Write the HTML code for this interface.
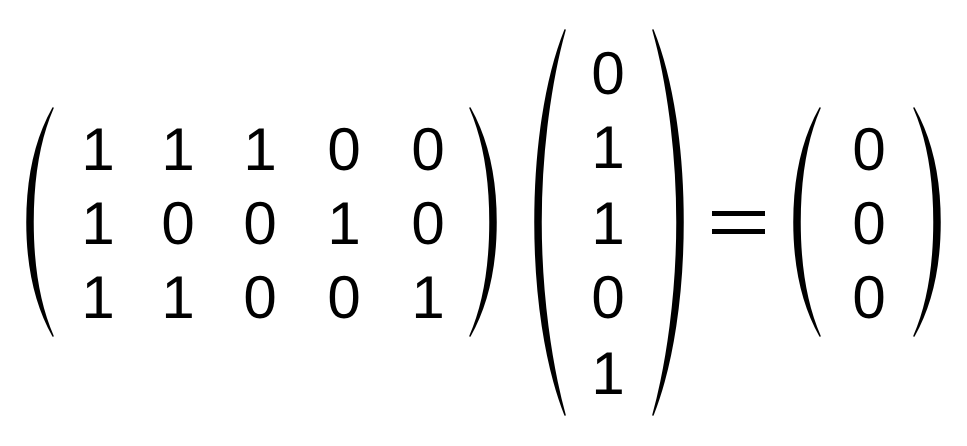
<!DOCTYPE html>
<html><head><meta charset="utf-8"><style>
html,body{margin:0;padding:0;background:#fff;}
svg{display:block}
text{font-family:"Liberation Sans","DejaVu Sans",sans-serif;font-size:60px;fill:#000;text-anchor:middle}
path{fill:#000;stroke:#000;stroke-width:1.5;stroke-linejoin:round}
</style></head><body>
<svg width="967" height="446" viewBox="0 0 967 446" xmlns="http://www.w3.org/2000/svg">
<!-- matrix parens -->
<path d="M53,108 C35,140 27,180 27,222 C27,264 35,304 53,336 C39,304 33,264 33,222 C33,180 39,140 53,108 Z"/>
<path d="M470,108 C488,140 496,180 496,222 C496,264 488,304 470,336 C484,304 490,264 490,222 C490,180 484,140 470,108 Z"/>
<!-- vector parens -->
<path d="M565,30 C545,80 535,150 535,222 C535,294 545,364 565,415 C551,364 541,294 541,222 C541,150 551,80 565,30 Z"/>
<path d="M653,30 C673,80 683,150 683,222 C683,294 673,364 653,415 C667,364 677,294 677,222 C677,150 667,80 653,30 Z"/>
<!-- result parens -->
<path d="M820,108 C802,140 794,180 794,222 C794,264 802,304 820,336 C806,304 800,264 800,222 C800,180 806,140 820,108 Z"/>
<path d="M914,108 C932,140 940,180 940,222 C940,264 932,304 914,336 C928,304 934,264 934,222 C934,180 928,140 914,108 Z"/>
<!-- matrix -->
<g>
<text x="98" y="170">1</text><text x="178" y="170">1</text><text x="260" y="170">1</text><text x="344" y="170">0</text><text x="428" y="170">0</text>
<text x="98" y="244">1</text><text x="178" y="244">0</text><text x="260" y="244">0</text><text x="344" y="244">1</text><text x="428" y="244">0</text>
<text x="98" y="318">1</text><text x="178" y="318">1</text><text x="260" y="318">0</text><text x="344" y="318">0</text><text x="428" y="318">1</text>
</g>
<!-- vector -->
<text x="608" y="94">0</text>
<text x="608" y="168">1</text>
<text x="608" y="244">1</text>
<text x="608" y="318">0</text>
<text x="608" y="394">1</text>
<!-- equals -->
<rect x="712" y="211" width="53" height="5" fill="#000"/>
<rect x="712" y="229" width="53" height="5" fill="#000"/>
<!-- result -->
<text x="869" y="170">0</text>
<text x="869" y="244">0</text>
<text x="869" y="318">0</text>
</svg>
</body></html>
